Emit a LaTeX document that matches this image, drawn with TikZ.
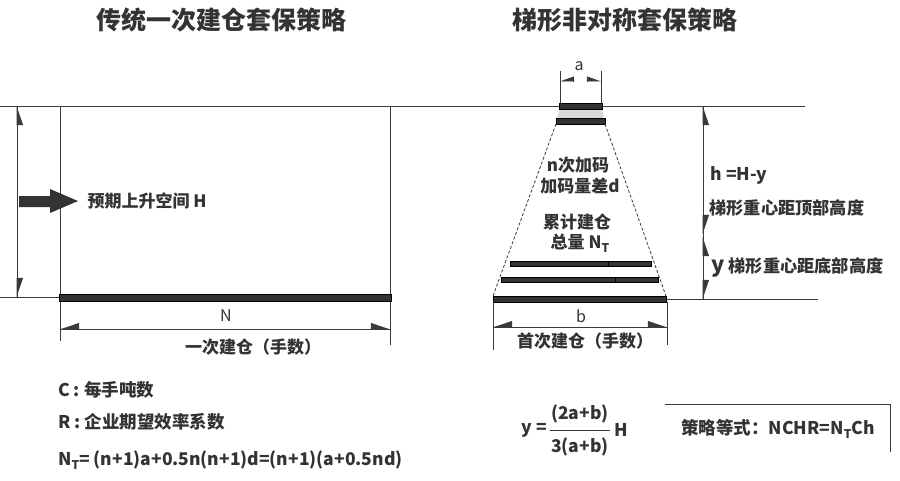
\documentclass[tikz,border=0pt]{standalone}
\usepackage{fontspec}
\setmainfont{Noto Sans CJK SC}
\usetikzlibrary{arrows.meta}
\definecolor{ink}{HTML}{333333}
\definecolor{lin}{HTML}{3A3A3A}
\definecolor{band}{HTML}{D9D9D9}
\newcommand\subT{\raisebox{-0.45ex}{\fontsize{12}{12}\selectfont T}}
\begin{document}
\begin{tikzpicture}[x=1pt,y=-1pt,
  thinl/.style={draw=lin, line width=0.8pt},
  barbox/.style={fill=ink, draw=black, line width=0.6pt},
  hl/.style={thinl, -{Triangle[harpoon,length=18pt,width=12pt]}},
  hr/.style={thinl, -{Triangle[harpoon,swap,length=18pt,width=12pt]}},
  hsl/.style={thinl, -{Triangle[harpoon,length=13pt,width=9pt]}},
  hsr/.style={thinl, -{Triangle[harpoon,swap,length=13pt,width=9pt]}},
  title/.style={font=\fontsize{25}{25}\selectfont\bfseries, text=ink},
  lab/.style={font=\fontsize{17}{17}\selectfont\bfseries, text=ink},
  dimlab/.style={font=\fontsize{16}{16}\selectfont, text=ink},
  bt/.style={font=\fontsize{17.5}{18}\selectfont\bfseries, text=ink, inner sep=0pt}]
\useasboundingbox (0,0) rectangle (900,480);
\fill[white] (0,0) rectangle (900,480);

% titles
\node[title] (t1) at (221,20) {传统一次建仓套保策略};
\node[title] (t2) at (625,20) {梯形非对称套保策略};

% reference lines
\coordinate (topL) at (0,106);
\coordinate (topR) at (805,106);
\draw[thinl] (topL) -- (topR);
\coordinate (botL) at (0,297);
\coordinate (botLe) at (59,297);
\draw[thinl] (botL) -- (botLe);
\coordinate (botR) at (666,299);
\coordinate (botRe) at (818,299);
\draw[thinl] (botR) -- (botRe);

% ---------- left figure ----------
\draw[thinl] (60,106) -- (60,341);
\draw[thinl] (390,106) -- (390,345);
\draw[barbox] (59,294) rectangle (391,301);
% H dimension
\coordinate (hT) at (17,106);
\coordinate (hB) at (17,297);
\draw[thinl] (hT) -- (hB);
\draw[hr] (17,124) -- (hT);
\draw[hl] (17,279) -- (hB);
% big arrow
\fill[ink] (19,196) -- (50,196) -- (50,189) -- (78,201) -- (50,213) -- (50,207) -- (19,207) -- cycle;
\node[lab, anchor=west] (hlab) at (84,201) {预期上升空间 H};
% N dimension
\coordinate (nL) at (60,329);
\coordinate (nR) at (390,329);
\draw[thinl] (nL) -- (nR);
\draw[hr] (78,329) -- (nL);
\draw[hl] (372,329) -- (nR);
\node[dimlab] (nlab) at (226,316) {N};
\node[lab] (once) at (253,347) {一次建仓（手数）};

% ---------- right figure ----------
\fill[band] (560,109) -- (602,109) -- (604,118) -- (557,118) -- cycle;
\draw[barbox] (559,103) rectangle (602,109);
\draw[barbox] (556,118) rectangle (605,124);
\draw[thinl, dash pattern=on 3pt off 2pt] (556,124) -- (493,296);
\draw[thinl, dash pattern=on 3pt off 2pt] (605,124) -- (666,296);
\draw[barbox] (510,261) rectangle (651,266);
\draw[black, line width=0.6pt] (608,261) -- (608,266);
\draw[barbox] (501,277) rectangle (658,282);
\draw[black, line width=0.6pt] (615,277) -- (615,282);
\draw[barbox] (493,296) rectangle (666,302);

% a dimension
\draw[thinl] (560,71) -- (560,103);
\draw[thinl] (601,71) -- (601,103);
\coordinate (aL) at (560,81);
\coordinate (aR) at (601,81);
\draw[hsr] (574,81) -- (aL);
\draw[hsl] (587,81) -- (aR);
\node[dimlab] (alab) at (579,66) {a};

% b dimension
\draw[thinl] (493,302) -- (493,350);
\draw[thinl] (667,302) -- (667,345);
\coordinate (bL) at (493,327);
\coordinate (bR) at (667,327);
\draw[thinl] (bL) -- (bR);
\draw[hr] (511,327) -- (bL);
\draw[hl] (649,327) -- (bR);
\node[dimlab] (blab) at (581,316) {b};
\node[lab] (first) at (585,341) {首次建仓（手数）};

% trapezoid texts
\node[lab] (t3) at (578,165) {n次加码};
\node[lab] (t4) at (580,186) {加码量差d};
\node[lab] (t5) at (577,222) {累计建仓};
\node[lab] (t6) at (580,243) {总量 N\subT};

% h / y dimension
\coordinate (rT) at (703,106);
\coordinate (rM1) at (703,234);
\coordinate (rM2) at (703,237);
\coordinate (rB) at (703,299);
\draw[thinl] (rT) -- (rB);
\draw[hr] (703,126) -- (rT);
\draw[hl] (703,214) -- (rM1);
\draw[hr] (703,256) -- (rM2);
\draw[hl] (703,280) -- (rB);
\node[lab, font=\fontsize{17.5}{18}\selectfont\bfseries, anchor=west] (hh) at (707,175) {h =H-y};
\node[lab, font=\fontsize{17.2}{18}\selectfont\bfseries, anchor=west] (hd) at (706,208) {梯形重心距顶部高度};
\node[lab, font=\fontsize{17.2}{18}\selectfont\bfseries, anchor=west] (yd) at (708,267) {{\fontsize{22}{22}\selectfont y} 梯形重心距底部高度};

% ---------- bottom texts ----------
\node[bt, anchor=west] (c) at (58,390) {C : 每手吨数};
\node[bt, anchor=west] (r) at (58,422) {R : 企业期望效率系数};
\node[bt, anchor=west] (nt) at (58,460) {N\subT = (n+1)a+0.5n(n+1)d=(n+1)(a+0.5nd)};

\node[bt, anchor=east] (eqy) at (547,430) {y =};
\node[bt] (num) at (580,414) {(2a+b)};
\node[bt] (den) at (580,447) {3(a+b)};
\draw[draw=ink, line width=0.9pt] (550,430) -- (610,430);
\node[bt, anchor=west] (eqH) at (614,430) {H};

\draw[thinl] (665,404) -- (890,404) -- (890,452);
\node[bt] (rule) at (778,429) {策略等式：NCHR=N\subT Ch};
\end{tikzpicture}
\end{document}
